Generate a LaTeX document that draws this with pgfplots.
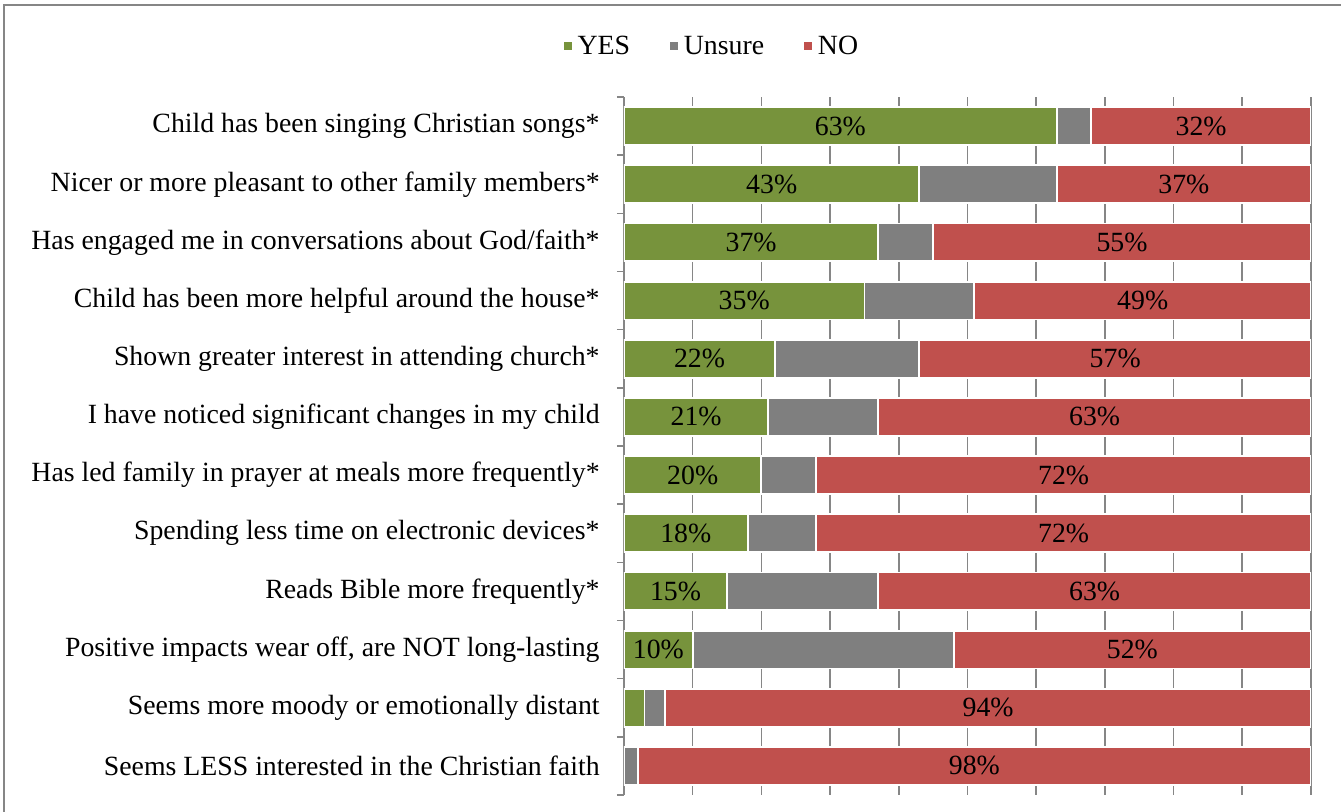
\documentclass[border=0pt]{standalone}
\usepackage{pgfplots}
\usepackage{pgfplotstable}
\pgfplotsset{compat=1.18}
\usepackage{fontspec}
\setmainfont{Liberation Serif}
\definecolor{cyes}{HTML}{77933C}
\definecolor{cuns}{HTML}{7F7F7F}
\definecolor{cno}{HTML}{C0504D}
\definecolor{cgrid}{HTML}{868686}
\pgfplotstableread{
row yes unsure no
0 63 5 32
1 43 20 37
2 37 8 55
3 35 16 49
4 22 21 57
5 21 16 63
6 20 8 72
7 18 10 72
8 15 22 63
9 10 38 52
10 3 3 94
11 0 2 98
}\datatable
\pgfplotsset{sqlegend/.style={legend image code/.code={\fill[##1] (0pt,-2.0pt) rectangle (5pt,3.0pt);}}}
\begin{document}
\begin{tikzpicture}[font=\fontsize{13.9}{16}\selectfont]
\useasboundingbox (-312pt,-8pt) rectangle (358.5pt,397.5pt);
\fill[white] (-312pt,-8pt) rectangle (358.5pt,397.5pt);
\draw[cgrid, line width=1pt] (-310pt,-20pt) -- (-310pt,395pt) -- (370pt,395pt);
\begin{axis}[
  at={(0pt,0pt)}, anchor=south west,
  width=343.5pt, height=349pt, scale only axis,
  xbar stacked, bar width=0.65,
  xmin=0, xmax=100, ymin=-0.5, ymax=11.5, y dir=reverse,
  axis x line*=bottom, axis y line*=left,
  x axis line style={draw=none},
  y axis line style={cgrid, line width=0.8pt},
  xtick={0,10,...,100}, xticklabels={},
  xmajorgrids, major grid style={cgrid, line width=0.8pt},
  ytick={0,...,11},
  yticklabels={
    Child has been singing Christian songs*,
    Nicer or more pleasant to other family members*,
    Has engaged me in conversations about God/faith*,
    Child has been more helpful around the house*,
    Shown greater interest in attending church*,
    I have noticed significant changes in my child,
    Has led family in prayer at meals more frequently*,
    Spending less time on electronic devices*,
    Reads Bible more frequently*,
    {Positive impacts wear off, are NOT long-lasting},
    Seems more moody or emotionally distant,
    Seems LESS interested in the Christian faith},
  minor ytick={-0.5,0.5,...,11.5},
  major tick length=0pt, minor tick length=3.5pt, tick align=outside,
  minor tick style={cgrid, line width=0.8pt},
  yticklabel style={anchor=east, inner sep=0pt, xshift=-12pt},
  legend columns=3,
  legend style={at={(0.128,1.0716)}, anchor=center, draw=none, fill=none,
    cells={inner xsep=2pt},
    /tikz/every even column/.append style={column sep=17pt}},
]
\addplot[fill=cyes, draw=white, line width=0.9pt, sqlegend] table[x=yes, y=row] {\datatable};
\addplot[fill=cuns, draw=white, line width=0.9pt, sqlegend] table[x=unsure, y=row] {\datatable};
\addplot[fill=cno, draw=white, line width=0.9pt, sqlegend] table[x=no, y=row] {\datatable};
\legend{YES, Unsure, NO}
\end{axis}
\begin{axis}[
  at={(0pt,0pt)}, anchor=south west,
  width=343.5pt, height=349pt, scale only axis,
  xmin=0, xmax=100, ymin=-0.5, ymax=11.5, y dir=reverse, hide axis]
\addplot[draw=none, mark=none, nodes near coords, point meta=explicit symbolic,
  nodes near coords align={center}] coordinates {
  (31.5,0) [63\%] (84,0) [32\%]
  (21.5,1) [43\%] (81.5,1) [37\%]
  (18.5,2) [37\%] (72.5,2) [55\%]
  (17.5,3) [35\%] (75.5,3) [49\%]
  (11,4) [22\%] (71.5,4) [57\%]
  (10.5,5) [21\%] (68.5,5) [63\%]
  (10,6) [20\%] (64,6) [72\%]
  (9,7) [18\%] (64,7) [72\%]
  (7.5,8) [15\%] (68.5,8) [63\%]
  (5,9) [10\%] (74,9) [52\%]
  (53,10) [94\%]
  (51,11) [98\%]
};
\end{axis}
\end{tikzpicture}
\end{document}
